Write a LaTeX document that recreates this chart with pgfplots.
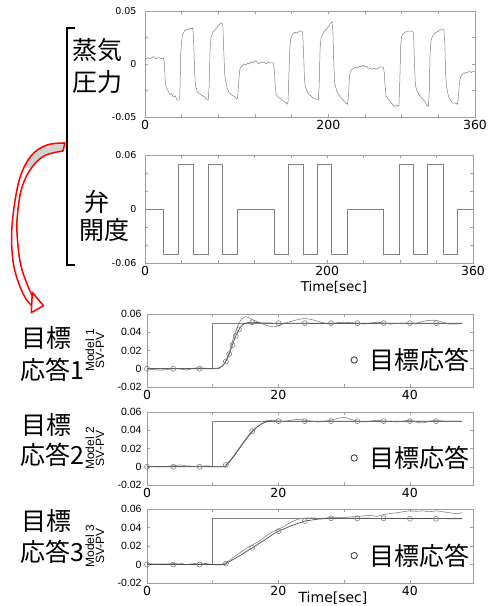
\documentclass[border=0pt]{standalone}
\usepackage{pgfplots}
\pgfplotsset{compat=1.18}
\usepackage{fontspec}
\setmainfont{DejaVu Sans}
\newfontfamily\lib{Liberation Sans}
\newfontfamily\jp{Noto Sans CJK JP}
\definecolor{frame}{gray}{0.62}
\definecolor{dline}{gray}{0.5}
\definecolor{tline}{gray}{0.3}
\newcommand{\mlab}[1]{\lib\fontsize{12}{11}\selectfont\shortstack{Model #1\\[-1.5pt]SV-PV}}
\pgfplotsset{
  base/.style={scale only axis, anchor=south west, axis line style={frame, line width=0.6pt},
    tick style={frame, line width=0.5pt}, major tick length=3pt, tick align=inside, clip=false,
    scaled ticks=false, /pgf/number format/assume math mode=true},
  top/.style={base, xmin=0, xmax=360, xtick={0,40,...,360}, xticklabels={0,,,,,200,,,,360},
    xticklabel style={font=\fontsize{12.5}{13}\selectfont},
    yticklabel style={font=\fontsize{9.5}{10}\selectfont, xshift=-5pt}},
  bot/.style={base, width=326pt, xmin=0, xmax=49.6, ymin=-0.02, ymax=0.06,
    xtick={0,10,20,30,40}, xticklabels={0,,20,,40},
    ytick={-0.02,0,0.02,0.04,0.06}, yticklabels={-0.02,0,0.02,0.04,0.06},
    xticklabel style={font=\fontsize{12.5}{13}\selectfont},
    yticklabel style={font=\lib\fontsize{10.5}{11}\selectfont, xshift=-2pt},
    ylabel style={at={(axis description cs:-0.16,0.5)}, anchor=center, inner sep=0pt},
    legend style={draw=none, fill=none, at={(rel axis cs:0.995,0.37)}, anchor=east,
      font=\jp\fontsize{25}{26}\selectfont, inner sep=0pt},
    legend image code/.code={\draw[black!80, line width=0.8pt] (0pt,0pt) circle (3.2pt);
      \path[draw=none, fill=none] (0pt,-1pt) rectangle (13pt,1pt);}},
  sv/.style={dline, line width=0.6pt},
  tgt/.style={tline, line width=0.7pt, smooth},
  act/.style={dline, line width=0.6pt, smooth},
  circ/.style={only marks, mark=o, mark size=2.5pt, mark options={dline, line width=0.6pt}},
}
\begin{document}
\begin{tikzpicture}[x=1pt,y=1pt]
\path[use as bounding box] (0,0) rectangle (489,606);

% ---------- steam pressure ----------
\begin{axis}[top, at={(145pt,489pt)}, width=330pt, height=106pt, ymin=-0.05, ymax=0.05,
  ytick={-0.05,-0.025,0,0.025,0.05}, yticklabels={-0.05,,0,,0.05}]
\addplot[dline, line width=0.5pt] coordinates {
(0,0.004)(3,0.006)(6,0.005)(9,0.007)(12,0.005)(15,0.006)(18,0.005)(20,0.006)(21,0.002)(22,-0.015)(23,-0.022)(25,-0.025)(27,-0.029)(29,-0.028)(31,-0.031)(33,-0.030)(35,-0.034)(37,-0.034)(38,-0.030)(39,0.010)(40,0.022)(41,0.028)(43,0.031)(45,0.033)(47,0.032)(49,0.034)(51,0.033)(52,0.034)(53,0.025)(54,-0.005)(55,-0.020)(57,-0.026)(59,-0.028)(61,-0.029)(63,-0.030)(65,-0.031)(67,-0.033)(69,-0.034)(70,-0.020)(71,0.015)(72,0.025)(74,0.030)(76,0.032)(78,0.034)(80,0.036)(82,0.038)(84,0.039)(85,0.035)(86,0.010)(87,-0.010)(88,-0.016)(90,-0.024)(92,-0.027)(94,-0.029)(96,-0.030)(98,-0.031)(100,-0.033)(101,-0.032)(102,-0.020)(103,-0.008)(104,-0.003)(106,-0.002)(108,0.000)(110,-0.001)(112,0.001)(114,0.000)(116,0.002)(118,0.001)(120,0.003)(122,0.002)(124,0.000)(126,0.002)(128,0.001)(130,0.002)(132,0.000)(134,0.002)(136,0.001)(138,0.001)(140,0.001)(141,-0.005)(142,-0.020)(143,-0.028)(145,-0.031)(147,-0.032)(149,-0.033)(151,-0.035)(153,-0.036)(155,-0.038)(156,-0.036)(157,-0.010)(158,0.015)(159,0.024)(161,0.028)(163,0.030)(165,0.029)(167,0.030)(169,0.031)(171,0.031)(172,0.030)(173,0.010)(174,-0.015)(175,-0.022)(177,-0.026)(179,-0.029)(181,-0.030)(183,-0.032)(185,-0.033)(187,-0.033)(189,-0.034)(190,-0.020)(191,0.015)(192,0.024)(194,0.028)(196,0.031)(198,0.033)(200,0.035)(202,0.038)(204,0.040)(205,0.030)(206,0.000)(207,-0.018)(209,-0.025)(211,-0.029)(213,-0.031)(215,-0.033)(217,-0.035)(219,-0.037)(221,-0.038)(222,-0.030)(223,-0.012)(224,-0.007)(226,-0.005)(228,-0.004)(230,-0.003)(232,-0.004)(234,-0.002)(236,-0.003)(238,-0.001)(240,-0.003)(242,-0.002)(244,-0.004)(246,-0.004)(248,-0.005)(250,-0.004)(252,-0.005)(254,-0.004)(256,-0.003)(258,-0.003)(260,-0.003)(261,-0.008)(262,-0.022)(263,-0.030)(265,-0.033)(267,-0.035)(269,-0.037)(271,-0.039)(273,-0.040)(275,-0.039)(277,-0.040)(278,-0.015)(279,0.018)(280,0.026)(282,0.029)(284,0.030)(286,0.031)(288,0.031)(290,0.031)(292,0.031)(293,0.028)(294,0.000)(295,-0.020)(297,-0.026)(299,-0.029)(301,-0.031)(303,-0.033)(305,-0.035)(307,-0.038)(309,-0.040)(310,-0.030)(311,0.010)(312,0.022)(314,0.027)(316,0.029)(318,0.030)(320,0.031)(322,0.032)(324,0.033)(326,0.033)(327,0.020)(328,-0.010)(329,-0.022)(331,-0.030)(333,-0.034)(335,-0.036)(337,-0.037)(339,-0.037)(341,-0.038)(342,-0.030)(343,-0.018)(344,-0.013)(346,-0.010)(348,-0.009)(350,-0.008)(352,-0.008)(354,-0.007)(356,-0.008)(358,-0.007)(360,-0.007)};
\end{axis}

% ---------- valve opening ----------
\begin{axis}[top, at={(145pt,343pt)}, width=328pt, height=108pt, ymin=-0.06, ymax=0.06,
  ytick={-0.06,-0.04,-0.02,0,0.02,0.04,0.06}, yticklabels={-0.06,,,0,,,0.06}]
\addplot[dline, line width=0.6pt] coordinates {
(0,0)(20,0)(20,-0.05)(37,-0.05)(37,0.05)(53,0.05)(53,-0.05)(69,-0.05)(69,0.05)(85,0.05)(85,-0.05)(101,-0.05)(101,0)(142,0)(142,-0.05)(157,-0.05)(157,0.05)(174,0.05)(174,-0.05)(189,-0.05)(189,0.05)(205,0.05)(205,-0.05)(222,-0.05)(222,0)(262,0)(262,-0.05)(279,-0.05)(279,0.05)(294,0.05)(294,-0.05)(310,-0.05)(310,0.05)(327,0.05)(327,-0.05)(343,-0.05)(343,0)(360,0)};
\end{axis}
\node[font=\fontsize{13.5}{14}\selectfont] at (334,319) {Time[sec]};

% ---------- Model 1 ----------
\begin{axis}[bot, at={(147pt,219pt)}, height=73pt, ylabel={\mlab{1}}]
\addplot[sv, forget plot] coordinates {(0,0)(10,0)(10,0.05)(48,0.05)};
\addplot[act, forget plot] coordinates {(0,0)(1,-0.001)(2,-0.0015)(3,-0.001)(4,0.0005)(5,0)(6,-0.0015)(7,0.0005)(8,0.001)(9,0.0005)(10,0.0005)(11,0.001)(11.5,0.003)(12,0.009)(12.5,0.018)(13,0.030)(13.5,0.041)(14,0.050)(14.5,0.055)(15,0.057)(15.5,0.056)(16,0.054)(17,0.051)(18,0.048)(19,0.046)(20,0.047)(21,0.050)(22,0.052)(23,0.054)(24,0.055)(25,0.054)(26,0.052)(27,0.050)(28,0.049)(29,0.0505)(30,0.051)(31,0.0505)(32,0.050)(33,0.049)(34,0.050)(35,0.051)(36,0.050)(37,0.049)(38,0.0495)(39,0.050)(40,0.050)(41,0.050)(42,0.052)(43,0.053)(44,0.053)(45,0.051)(46,0.049)(47,0.049)(48,0.050)};
\addplot[tgt, forget plot] coordinates {(0,0)(10,0)(11,0.001)(11.5,0.003)(12,0.008)(12.5,0.016)(13,0.026)(13.5,0.036)(14,0.043)(14.5,0.048)(15,0.050)(16,0.051)(17,0.0505)(20,0.050)(48,0.050)};
\addplot[circ] coordinates {(0,0)(4,0)(8,0)(12,0.008)(12.5,0.016)(13,0.026)(13.5,0.036)(14,0.043)(16,0.051)(20,0.050)(24,0.050)(28,0.050)(32,0.050)(36,0.050)(40,0.050)(44,0.050)};
\addlegendentry{目標応答}
\end{axis}

% ---------- Model 2 ----------
\begin{axis}[bot, at={(147pt,121pt)}, height=73pt, ylabel={\mlab{2}}]
\addplot[sv, forget plot] coordinates {(0,0)(10,0)(10,0.05)(48,0.05)};
\addplot[act, forget plot] coordinates {(0,0.0005)(2,0)(4,0.001)(5,0.002)(6,0.001)(8,0.0005)(9,0.001)(10,0.0005)(11,0)(12,0.001)(13,0.009)(14,0.019)(15,0.029)(16,0.038)(17,0.045)(18,0.049)(19,0.051)(20,0.050)(21,0.050)(22,0.051)(23,0.052)(24,0.051)(25,0.050)(26,0.049)(27,0.050)(28,0.051)(29,0.053)(30,0.054)(31,0.052)(32,0.050)(33,0.049)(34,0.050)(35,0.051)(36,0.050)(37,0.050)(38,0.049)(39,0.050)(40,0.051)(41,0.049)(42,0.048)(43,0.050)(44,0.051)(45,0.050)(46,0.050)(47,0.050)(48,0.050)};
\addplot[tgt, forget plot] coordinates {(0,0)(11,0)(12,0.002)(13,0.010)(14,0.020)(15,0.030)(16,0.039)(17,0.045)(18,0.049)(19,0.050)(20,0.050)(48,0.050)};
\addplot[circ] coordinates {(0,0)(4,0)(8,0)(12,0.002)(16,0.039)(20,0.050)(24,0.050)(28,0.050)(32,0.050)(36,0.050)(40,0.050)(44,0.050)};
\addlegendentry{目標応答}
\end{axis}

% ---------- Model 3 ----------
\begin{axis}[bot, at={(147pt,23pt)}, height=74pt, ylabel={\mlab{3}}]
\addplot[sv, forget plot] coordinates {(0,0)(10,0)(10,0.05)(48,0.05)};
\addplot[act, forget plot] coordinates {(0,0.001)(2,0.0005)(4,0.001)(5,0.0015)(6,0.000)(7,0.001)(8,0.0015)(9,0.001)(10,0)(11,-0.0005)(12,0.002)(13,0.007)(14,0.012)(15,0.017)(16,0.021)(17,0.025)(18,0.030)(19,0.035)(20,0.038)(21,0.042)(22,0.046)(23,0.049)(24,0.050)(25,0.0505)(26,0.050)(27,0.050)(28,0.051)(30,0.051)(32,0.052)(34,0.053)(35,0.052)(36,0.054)(37,0.055)(38,0.056)(39,0.057)(40,0.058)(41,0.0575)(42,0.058)(43,0.057)(44,0.058)(45,0.057)(46,0.056)(47,0.055)(48,0.056)};
\addplot[tgt, forget plot] coordinates {(0,0)(11,0)(12,0.001)(13,0.005)(14,0.009)(15,0.0135)(16,0.018)(17,0.0225)(18,0.027)(19,0.032)(20,0.036)(21,0.039)(22,0.042)(23,0.0445)(24,0.047)(25,0.048)(26,0.049)(27,0.0495)(28,0.050)(30,0.050)(48,0.0495)};
\addplot[circ] coordinates {(0,0)(4,0)(8,0)(12,0.001)(16,0.018)(20,0.036)(24,0.047)(28,0.050)(32,0.050)(36,0.050)(40,0.0495)(44,0.0495)};
\addlegendentry{目標応答}
\end{axis}
\node[font=\fontsize{14}{14}\selectfont] at (333,8) {Time[sec]};

% ---------- left annotations ----------
\draw[line width=1.3pt] (75,578) -- (67,578) -- (67,341) -- (75,341);
\begin{scope}[font=\jp\fontsize{25}{26}\selectfont, inner sep=0pt]
\node[anchor=west] at (72,556) {蒸気};
\node[anchor=west] at (72,524) {圧力};
\node at (96.5,404) {弁};
\node at (104,376) {開度};
\node[anchor=west] at (21,268) {目標};
\node[anchor=west] at (20,236) {応答1};
\node[anchor=west] at (21,181) {目標};
\node[anchor=west] at (20,151) {応答2};
\node[anchor=west] at (21,85) {目標};
\node[anchor=west] at (20,54) {応答3};
\end{scope}

% red curved block arrow
\def\band{plot[smooth, tension=0.6] coordinates {(65,463)(47,461)(31,450)(19,425)(12,380)(13,345)(19,322)(26,307)(32.3,300)} -- plot[smooth, tension=0.6] coordinates {(32.3,310)(27,322)(21,340)(18,360)(17,385)(21,415)(30,436)(44,450)(63,455)} -- cycle}
\fill[white] \band;
\begin{scope}
\clip (0,438) rectangle (70,470);
\fill[gray!35] \band;
\end{scope}
\draw[red, line width=1.5pt, line join=round] \band;
\filldraw[draw=red, fill=white, line width=1.5pt, line join=round] (32.3,313.5) -- (31.3,293.3) -- (43.5,300.3) -- cycle;
\end{tikzpicture}
\end{document}
